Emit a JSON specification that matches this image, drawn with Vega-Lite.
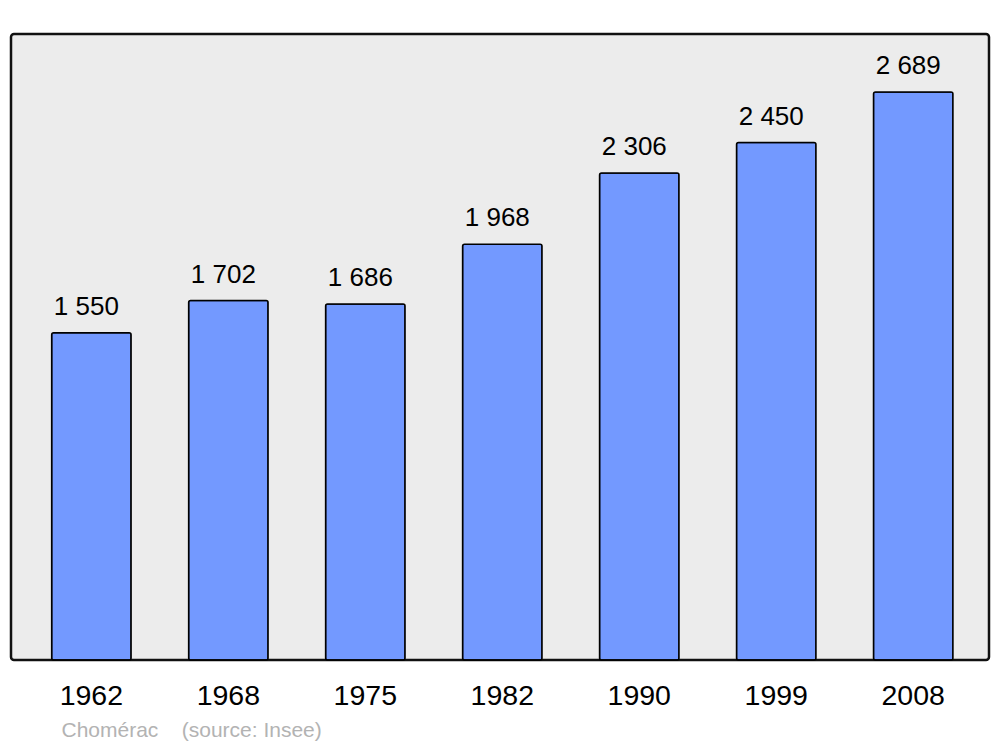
{
  "$schema": "https://vega.github.io/schema/vega-lite/v6.json",
  "width": 978,
  "height": 626,
  "autosize": {"type": "none"},
  "padding": {"left": 11, "top": 34, "right": 11, "bottom": 87},
  "background": "white",
  "config": {
    "font": "Liberation Sans",
    "view": {"fill": "#ececec", "stroke": "#111111", "strokeWidth": 2.5, "cornerRadius": 3}
  },
  "data": {
    "values": [
      {"year": "1962", "pop": 1550, "label": "1 550"},
      {"year": "1968", "pop": 1702, "label": "1 702"},
      {"year": "1975", "pop": 1686, "label": "1 686"},
      {"year": "1982", "pop": 1968, "label": "1 968"},
      {"year": "1990", "pop": 2306, "label": "2 306"},
      {"year": "1999", "pop": 2450, "label": "2 450"},
      {"year": "2008", "pop": 2689, "label": "2 689"}
    ]
  },
  "encoding": {
    "x": {
      "field": "year", "type": "nominal", "sort": null,
      "scale": {"paddingInner": 0.42, "paddingOuter": 0.28, "align": 0.53},
      "axis": {
        "title": "Chomérac\u00a0\u00a0\u00a0\u00a0(source: Insee)",
        "titleFont": "Liberation Sans", "titleFontSize": 21, "titleFontWeight": "normal",
        "titleColor": "#b3b3b3", "titleAnchor": "start", "titleAlign": "left",
        "titleX": 50, "titleY": 70, "titleBaseline": "middle",
        "labelAngle": 0, "labelFontSize": 28.5, "labelColor": "#000000",
        "labelPadding": 35, "labelBaseline": "middle",
        "ticks": false, "domain": false, "grid": false
      }
    },
    "y": {
      "field": "pop", "type": "quantitative",
      "scale": {"domain": [0, 2964], "nice": false, "zero": true},
      "axis": null
    }
  },
  "layer": [
    {
      "mark": {"type": "bar", "fill": "#7399ff", "stroke": "#000000", "strokeWidth": 1.5, "cornerRadius": 2}
    },
    {
      "mark": {"type": "text", "baseline": "bottom", "dy": -13, "dx": -5, "fontSize": 26, "color": "#000000"},
      "encoding": {"text": {"field": "label"}}
    }
  ]
}
